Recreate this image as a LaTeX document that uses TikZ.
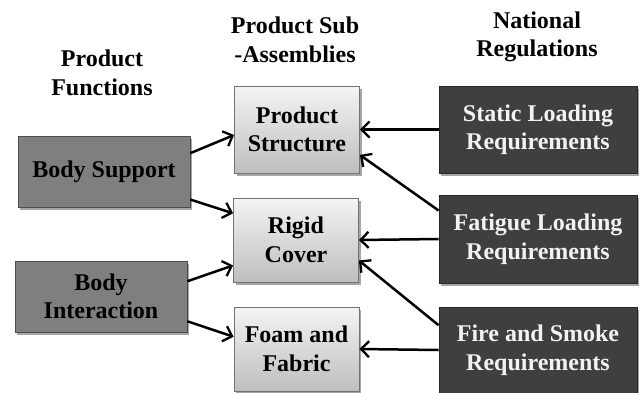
\documentclass[tikz,border=0pt]{standalone}
\usepackage{fontspec}
\setmainfont{Liberation Serif}
\usepackage{xcolor}
\usetikzlibrary{arrows.meta,shadows}
\definecolor{funcgray}{HTML}{7F7F7F}
\definecolor{regdark}{HTML}{3F3F3F}
\definecolor{subtop}{HTML}{F4F4F4}
\definecolor{subbottom}{HTML}{BEBEBE}
\tikzset{
  boxtext/.style={font=\fontsize{24}{28.5}\selectfont\bfseries,
    align=center, inner sep=0pt},
  boxshadow/.style={drop shadow={shadow xshift=2pt, shadow yshift=-3pt,
      opacity=0.35, fill=black}},
  funcbox/.style={boxtext, boxshadow, draw=black!70, line width=0.8pt,
    fill=funcgray, minimum width=172pt, minimum height=71pt},
  subbox/.style={boxtext, boxshadow, draw=black!55, line width=0.8pt,
    top color=subtop, bottom color=subbottom, minimum width=125pt},
  regbox/.style={boxtext, boxshadow, draw=black!85, line width=0.8pt,
    fill=regdark, text=white!95!black, minimum width=198pt},
  link/.style={line width=2.5pt,
    -{Straight Barb[length=8pt,width=16pt,line width=2.3pt]}}
}

\begin{document}
\begin{tikzpicture}[x=1pt,y=-1pt]
  \useasboundingbox (0,0) rectangle (643,392);
  % column titles
  \node[boxtext] (tfunc) at (102,73) {Product\\Functions};
  \node[boxtext] (tsub) at (295,40) {Product Sub\\-Assemblies};
  \node[boxtext] (treg) at (537,37) {National\\Regulations};
  % product functions
  \node[funcbox] (bs) at (104,171.5) {Body Support};
  \node[funcbox] (bi) at (101,296.5) {Body\\Interaction};
  % sub-assemblies
  \node[subbox, minimum height=87pt] (ps) at (297,129.5) {Product\\Structure};
  \node[subbox, minimum height=84pt] (rc) at (296,240) {Rigid\\Cover};
  \node[subbox, minimum height=84pt] (ff) at (296.5,349) {Foam and\\Fabric};
  % regulations
  \node[regbox, minimum height=87pt] (sl) at (538,129.5) {Static Loading\\Requirements};
  \node[regbox, minimum height=88pt] (fl) at (538,239) {Fatigue Loading\\Requirements};
  \node[regbox, minimum height=86pt] (fs) at (538,350) {Fire and Smoke\\Requirements};
  % functions to sub-assemblies
  \draw[link] (bs.12) -- (ps.185);
  \draw[link] (bs.342) -- (rc.157);
  \draw[link] (bi.10) -- (rc.202);
  \draw[link] (bi.344) -- (ff.169);
  % regulations to sub-assemblies
  \draw[link] (sl.west) -- (ps.east);
  \draw[link] (fl.164) -- (ps.338);
  \draw[link] (fl.west) -- (rc.east);
  \draw[link] (fs.166) -- (rc.342);
  \draw[link] (fs.west) -- (ff.east);
\end{tikzpicture}
\end{document}
